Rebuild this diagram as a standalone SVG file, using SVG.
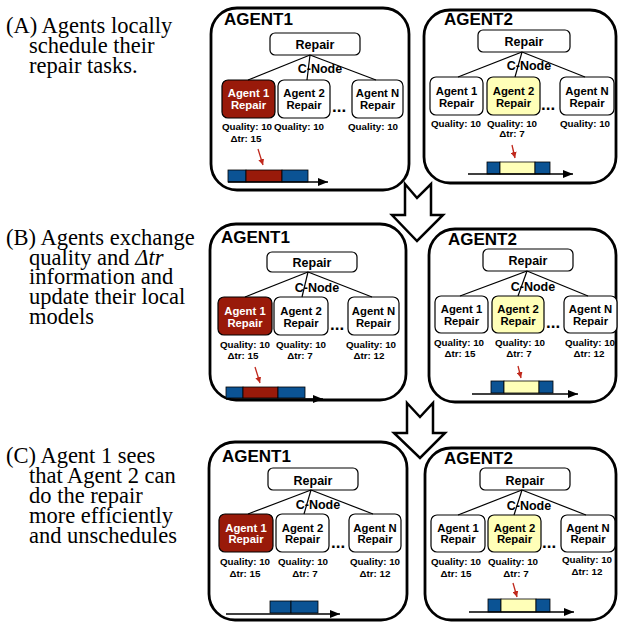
<svg xmlns="http://www.w3.org/2000/svg" width="619" height="623" viewBox="0 0 619 623">
<style>
.panel{fill:#fff;stroke:#000;stroke-width:2.8}
.node{fill:#fff;stroke:#000;stroke-width:1.2}
.red{fill:#991a0a}
.yel{fill:#ffffb8}
.blue{fill:#0b5394;stroke:#000;stroke-width:0.8}
.redb{fill:#991a0a;stroke:#000;stroke-width:0.8}
.yelb{fill:#ffffb8;stroke:#000;stroke-width:0.8}
text{font-family:"Liberation Sans",Arial,sans-serif;font-weight:bold;fill:#000}
.title{font-size:17px}
.c{text-anchor:middle}
.t12{font-size:12.5px}
.nt{font-size:11.3px}
.q{font-size:9.8px}
.w{fill:#fff}
.dots{font-size:17px}
.cap{font-family:"Liberation Serif","Times New Roman",serif;font-weight:normal;font-size:22.5px}
.edge{stroke:#000;stroke-width:1.2;fill:none}
.ra{stroke:#c0281c;stroke-width:1.3;fill:none;marker-end:url(#rh)}
.axis{stroke:#000;stroke-width:1.3;fill:none;marker-end:url(#ah)}
.big{fill:#fff;stroke:#000;stroke-width:2.5;stroke-linejoin:miter}
</style>
<defs>
<marker id="rh" markerUnits="userSpaceOnUse" markerWidth="6" markerHeight="6" refX="6" refY="3" orient="auto"><path d="M0,0 L6,3 L0,6 z" fill="#c0281c"/></marker>
<marker id="ah" markerUnits="userSpaceOnUse" markerWidth="10" markerHeight="8" refX="10" refY="4" orient="auto"><path d="M0,0 L10,4 L0,8 z" fill="#000"/></marker>
</defs>

<g id="captions">
<text class="cap" x="6" y="33">(A) Agents locally</text>
<text class="cap" x="29" y="53">schedule their</text>
<text class="cap" x="29" y="73">repair tasks.</text>
<text class="cap" x="6" y="245">(B) Agents exchange</text>
<text class="cap" x="29" y="265">quality and <tspan font-style="italic">Δtr</tspan></text>
<text class="cap" x="29" y="284">information and</text>
<text class="cap" x="29" y="304">update their local</text>
<text class="cap" x="29" y="324">models</text>
<text class="cap" x="6" y="463">(C) Agent 1 sees</text>
<text class="cap" x="29" y="483">that Agent 2 can</text>
<text class="cap" x="29" y="503">do the repair</text>
<text class="cap" x="29" y="523">more efficiently</text>
<text class="cap" x="29" y="543">and unschedules</text>
</g>

<!-- Panel A / Agent 1 -->
<g id="a-agent1">
<rect class="panel" x="211" y="8" width="198" height="182" rx="26"/>
<text class="title" x="224" y="25">AGENT1</text>
<g id="a1-repair"><rect class="node" x="270" y="33" width="90" height="22" rx="5"/><text class="t12 c" x="315" y="49">Repair</text></g>
<g id="a1-agent1"><rect class="node red" x="222" y="80" width="53" height="38" rx="6"/><text class="nt c w" x="248.5" y="97">Agent 1</text><text class="nt c w" x="248.5" y="109">Repair</text><text class="q c" x="247" y="130">Quality: 10</text><text class="q c" x="246" y="142">Δtr: 15</text></g>
<g id="a1-agent2"><rect class="node" x="278" y="80" width="52" height="38" rx="6"/><text class="nt c" x="304" y="97">Agent 2</text><text class="nt c" x="304" y="109">Repair</text><text class="q c" x="299" y="130">Quality: 10</text></g>
<text class="dots" x="332" y="112">...</text>
<g id="a1-agentn"><rect class="node" x="352" y="80" width="51" height="38" rx="6"/><text class="nt c" x="377.5" y="97">Agent N</text><text class="nt c" x="377.5" y="109">Repair</text><text class="q c" x="373" y="130">Quality: 10</text></g>
<g id="a1-schedule"><rect class="blue" x="228" y="170" width="18" height="12"/><rect class="redb" x="246" y="170" width="36" height="12"/><rect class="blue" x="282" y="170" width="26" height="12"/><line class="axis" x1="228" y1="182" x2="328" y2="182"/></g>
</g>

<!-- Panel A / Agent 2 -->
<g id="a-agent2">
<rect class="panel" x="424" y="10" width="192" height="173" rx="26"/>
<text class="title" x="444" y="25">AGENT2</text>
<g id="a2-repair"><rect class="node" x="478" y="30" width="92" height="22" rx="5"/><text class="t12 c" x="524" y="46">Repair</text></g>
<g id="a2-agent1"><rect class="node" x="430" y="77" width="53" height="38" rx="6"/><text class="nt c" x="456.5" y="95">Agent 1</text><text class="nt c" x="456.5" y="107">Repair</text><text class="q c" x="456" y="127">Quality: 10</text></g>
<g id="a2-agent2"><rect class="node yel" x="487" y="77" width="53" height="38" rx="6"/><text class="nt c" x="513.5" y="95">Agent 2</text><text class="nt c" x="513.5" y="107">Repair</text><text class="q c" x="512" y="127">Quality: 10</text><text class="q c" x="512" y="137">Δtr: 7</text></g>
<text class="dots" x="541" y="110">...</text>
<g id="a2-agentn"><rect class="node" x="560" y="77" width="54" height="38" rx="6"/><text class="nt c" x="587" y="95">Agent N</text><text class="nt c" x="587" y="107">Repair</text><text class="q c" x="585" y="127">Quality: 10</text></g>
<g id="a2-schedule"><rect class="blue" x="487" y="162" width="13" height="12"/><rect class="yelb" x="500" y="162" width="35" height="12"/><rect class="blue" x="535" y="162" width="15" height="12"/><line class="axis" x1="468" y1="174" x2="573" y2="174"/></g>
</g>

<!-- Panel B / Agent 1 -->
<g id="b-agent1">
<rect class="panel" x="210" y="224" width="196" height="176" rx="26"/>
<text class="title" x="221" y="243">AGENT1</text>
<g id="b1-repair"><rect class="node" x="267" y="252" width="90" height="20" rx="5"/><text class="t12 c" x="312" y="267">Repair</text></g>
<g id="b1-agent1"><rect class="node red" x="218" y="297" width="54" height="38" rx="6"/><text class="nt c w" x="245" y="315">Agent 1</text><text class="nt c w" x="245" y="327">Repair</text><text class="q c" x="245" y="348">Quality: 10</text><text class="q c" x="243" y="359">Δtr: 15</text></g>
<g id="b1-agent2"><rect class="node" x="274" y="297" width="54" height="38" rx="6"/><text class="nt c" x="301" y="315">Agent 2</text><text class="nt c" x="301" y="327">Repair</text><text class="q c" x="301" y="348">Quality: 10</text><text class="q c" x="300" y="359">Δtr: 7</text></g>
<text class="dots" x="330" y="330">...</text>
<g id="b1-agentn"><rect class="node" x="348" y="297" width="51" height="38" rx="6"/><text class="nt c" x="373.5" y="315">Agent N</text><text class="nt c" x="373.5" y="327">Repair</text><text class="q c" x="371" y="348">Quality: 10</text><text class="q c" x="369" y="359">Δtr: 12</text></g>
<g id="b1-schedule"><rect class="blue" x="226" y="387" width="17" height="11"/><rect class="redb" x="243" y="387" width="35" height="11"/><rect class="blue" x="278" y="387" width="27" height="11"/><line class="axis" x1="226" y1="399" x2="323" y2="399"/></g>
</g>

<!-- Panel B / Agent 2 -->
<g id="b-agent2">
<rect class="panel" x="429" y="229" width="187" height="173" rx="26"/>
<text class="title" x="448" y="245">AGENT2</text>
<g id="b2-repair"><rect class="node" x="483" y="249" width="90" height="22" rx="5"/><text class="t12 c" x="528" y="265">Repair</text></g>
<g id="b2-agent1"><rect class="node" x="435" y="296" width="53" height="37" rx="6"/><text class="nt c" x="461.5" y="313">Agent 1</text><text class="nt c" x="461.5" y="325">Repair</text><text class="q c" x="459" y="346">Quality: 10</text><text class="q c" x="460" y="357">Δtr: 15</text></g>
<g id="b2-agent2"><rect class="node yel" x="492" y="296" width="52" height="37" rx="6"/><text class="nt c" x="518" y="313">Agent 2</text><text class="nt c" x="518" y="325">Repair</text><text class="q c" x="520" y="346">Quality: 10</text><text class="q c" x="519" y="357">Δtr: 7</text></g>
<text class="dots" x="546" y="328">...</text>
<g id="b2-agentn"><rect class="node" x="564" y="296" width="53" height="37" rx="6"/><text class="nt c" x="590.5" y="313">Agent N</text><text class="nt c" x="590.5" y="325">Repair</text><text class="q c" x="590" y="346">Quality: 10</text><text class="q c" x="589" y="357">Δtr: 12</text></g>
<g id="b2-schedule"><rect class="blue" x="491" y="381" width="13" height="12"/><rect class="yelb" x="504" y="381" width="35" height="12"/><rect class="blue" x="539" y="381" width="14" height="12"/><line class="axis" x1="472" y1="394" x2="578" y2="394"/></g>
</g>

<!-- Panel C / Agent 1 -->
<g id="c-agent1">
<rect class="panel" x="209" y="442" width="198" height="178" rx="26"/>
<text class="title" x="222" y="462">AGENT1</text>
<g id="c1-repair"><rect class="node" x="268" y="468" width="90" height="22" rx="5"/><text class="t12 c" x="313" y="485">Repair</text></g>
<g id="c1-agent1"><rect class="node red" x="219" y="514" width="54" height="38" rx="6"/><text class="nt c w" x="246" y="532">Agent 1</text><text class="nt c w" x="246" y="543">Repair</text><text class="q c" x="245" y="565">Quality: 10</text><text class="q c" x="245" y="577">Δtr: 15</text></g>
<g id="c1-agent2"><rect class="node" x="276" y="514" width="53" height="38" rx="6"/><text class="nt c" x="302.5" y="532">Agent 2</text><text class="nt c" x="302.5" y="543">Repair</text><text class="q c" x="303" y="565">Quality: 10</text><text class="q c" x="305" y="577">Δtr: 7</text></g>
<text class="dots" x="331" y="548">...</text>
<g id="c1-agentn"><rect class="node" x="349" y="514" width="52" height="38" rx="6"/><text class="nt c" x="375" y="532">Agent N</text><text class="nt c" x="375" y="543">Repair</text><text class="q c" x="375" y="565">Quality: 10</text><text class="q c" x="375" y="577">Δtr: 12</text></g>
<g id="c1-schedule"><rect class="blue" x="270" y="601" width="21" height="12"/><rect class="blue" x="291" y="601" width="27" height="12"/><line class="axis" x1="226" y1="614" x2="340" y2="614"/></g>
</g>

<!-- Panel C / Agent 2 -->
<g id="c-agent2">
<rect class="panel" x="425" y="448" width="191" height="172" rx="26"/>
<text class="title" x="444" y="464">AGENT2</text>
<g id="c2-repair"><rect class="node" x="480" y="468" width="90" height="22" rx="5"/><text class="t12 c" x="525" y="485">Repair</text></g>
<g id="c2-agent1"><rect class="node" x="431" y="515" width="54" height="37" rx="6"/><text class="nt c" x="458" y="532">Agent 1</text><text class="nt c" x="458" y="543">Repair</text><text class="q c" x="456" y="565">Quality: 10</text><text class="q c" x="456" y="577">Δtr: 15</text></g>
<g id="c2-agent2"><rect class="node yel" x="488" y="515" width="53" height="37" rx="6"/><text class="nt c" x="514.5" y="532">Agent 2</text><text class="nt c" x="514.5" y="543">Repair</text><text class="q c" x="513" y="565">Quality: 10</text><text class="q c" x="516" y="577">Δtr: 7</text></g>
<text class="dots" x="542" y="548">...</text>
<g id="c2-agentn"><rect class="node" x="561" y="515" width="54" height="37" rx="6"/><text class="nt c" x="588" y="532">Agent N</text><text class="nt c" x="588" y="543">Repair</text><text class="q c" x="587" y="563">Quality: 10</text><text class="q c" x="587" y="575">Δtr: 12</text></g>
<g id="c2-schedule"><rect class="blue" x="488" y="599" width="13" height="13"/><rect class="yelb" x="501" y="599" width="35" height="13"/><rect class="blue" x="536" y="599" width="14" height="13"/><line class="axis" x1="469" y1="612" x2="574" y2="612"/></g>
</g>

<g id="step-arrows">
<polygon class="big" points="405,184 417,198 431,184 431,215 443,215 417,241 392,215 405,215"/>
<polygon class="big" points="407,403 420,417 433,403 433,433 445,433 420,458 394,433 407,433"/>
</g>

<g id="connectors">
<line class="edge" x1="310" y1="55" x2="248" y2="80"/><line class="edge" x1="310" y1="55" x2="307" y2="80"/><line class="edge" x1="310" y1="55" x2="376" y2="80"/>
<text class="t12 c" x="320" y="73">C-Node</text>
<line class="ra" x1="258" y1="149" x2="263" y2="165"/>

<line class="edge" x1="522" y1="52" x2="458" y2="77"/><line class="edge" x1="522" y1="52" x2="515" y2="77"/><line class="edge" x1="522" y1="52" x2="585" y2="77"/>
<text class="t12 c" x="529" y="70">C-Node</text>
<line class="ra" x1="512" y1="145" x2="515" y2="158"/>

<line class="edge" x1="308" y1="272" x2="245" y2="297"/><line class="edge" x1="308" y1="272" x2="302" y2="297"/><line class="edge" x1="308" y1="272" x2="372" y2="297"/>
<text class="t12 c" x="317" y="292">C-Node</text>
<line class="ra" x1="255" y1="367" x2="260" y2="383"/>

<line class="edge" x1="527" y1="271" x2="460" y2="296"/><line class="edge" x1="527" y1="271" x2="518" y2="296"/><line class="edge" x1="527" y1="271" x2="588" y2="296"/>
<text class="t12 c" x="533" y="291">C-Node</text>
<line class="ra" x1="518" y1="366" x2="521" y2="378"/>

<line class="edge" x1="311" y1="490" x2="248" y2="514"/><line class="edge" x1="311" y1="490" x2="304" y2="514"/><line class="edge" x1="311" y1="490" x2="373" y2="514"/>
<text class="t12 c" x="318" y="509">C-Node</text>

<line class="edge" x1="522" y1="490" x2="458" y2="515"/><line class="edge" x1="522" y1="490" x2="514" y2="515"/><line class="edge" x1="522" y1="490" x2="586" y2="515"/>
<text class="t12 c" x="529" y="510">C-Node</text>
<line class="ra" x1="513" y1="583" x2="517" y2="597"/>
</g>
</svg>
